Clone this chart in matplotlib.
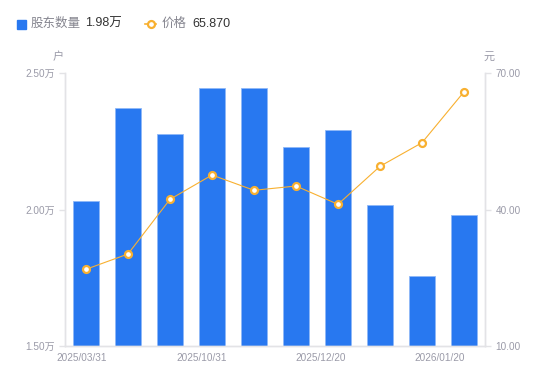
import numpy as np
import matplotlib.pyplot as plt

plt.rcParams['font.family'] = ['Liberation Sans', 'Noto Sans CJK SC', 'DejaVu Sans']

dates = ['2025/03/31', '2025/10/31', '2025/12/20', '2026/01/20']
holders = [2.031, 2.371, 2.275, 2.446, 2.446, 2.228, 2.291, 2.016, 1.755, 1.98]
price = [26.86, 30.22, 42.24, 47.58, 44.22, 45.16, 41.14, 49.49, 54.68, 65.87]

bar_color = '#2878f0'
line_color = '#f8b030'
grey = '#9a9aa8'
axis_grey = '#e3e3e6'

x = np.arange(len(holders))

fig = plt.figure(figsize=(5.5, 3.81), dpi=100)
ax = fig.add_axes([65 / 550, 35 / 381, 420 / 550, 273 / 381])
ax.bar(x, holders, width=0.6, color=bar_color, edgecolor='#8fb8f8', linewidth=0.6, zorder=2)
ax.set_xlim(-0.5, len(holders) - 0.5)
ax.set_ylim(1.5, 2.5)
ax.set_yticks([1.5, 2.0, 2.5])
ax.set_yticklabels(['1.50万', '2.00万', '2.50万'])

ax2 = ax.twinx()
ax2.plot(x, price, color=line_color, linewidth=0.8, marker='o', markersize=5,
         markerfacecolor='white', markeredgecolor=line_color, markeredgewidth=1.6, zorder=3)
ax2.set_ylim(10, 70)
ax2.set_yticks([10, 40, 70])
ax2.set_yticklabels(['10.00', '40.00', '70.00'])

ax.set_xticks(np.linspace(-0.1, 8.43, len(dates)))
ax.set_xticklabels(dates)

for a in (ax, ax2):
    a.spines['top'].set_visible(False)
    for s in ('left', 'right', 'bottom'):
        a.spines[s].set_color(axis_grey)
        a.spines[s].set_linewidth(1.0)
    a.tick_params(colors=axis_grey, labelcolor=grey, labelsize=7.2, length=4, width=1)
ax.tick_params(axis='x', length=0, pad=5)

fig.text(58 / 550, 1 - 57 / 381, '户', color=grey, fontsize=8, ha='center', va='center')
fig.text(489 / 550, 1 - 57 / 381, '元', color=grey, fontsize=8, ha='center', va='center')

# legend
ly = 1 - 24 / 381
fig.patches.append(plt.Rectangle((17 / 550, ly - 4.5 / 381), 9 / 550, 9 / 381,
                                 transform=fig.transFigure, color=bar_color, figure=fig))
fig.text(31 / 550, ly, '股东数量', color='#85858f', fontsize=9, va='center')
fig.text(85 / 550, ly, '1.98万', color='#333333', fontsize=9, va='center')
fig.lines.append(plt.Line2D([145 / 550, 156 / 550], [ly, ly], transform=fig.transFigure,
                            color=line_color, linewidth=1.2))
fig.lines.append(plt.Line2D([150.5 / 550], [ly], transform=fig.transFigure,
                            color=line_color, marker='o', markersize=5,
                            markerfacecolor='white', markeredgewidth=1.6))
fig.text(162 / 550, ly, '价格', color='#85858f', fontsize=9, va='center')
fig.text(192 / 550, ly, '65.870', color='#333333', fontsize=9, va='center')

fig.savefig('out.png', dpi=100)
